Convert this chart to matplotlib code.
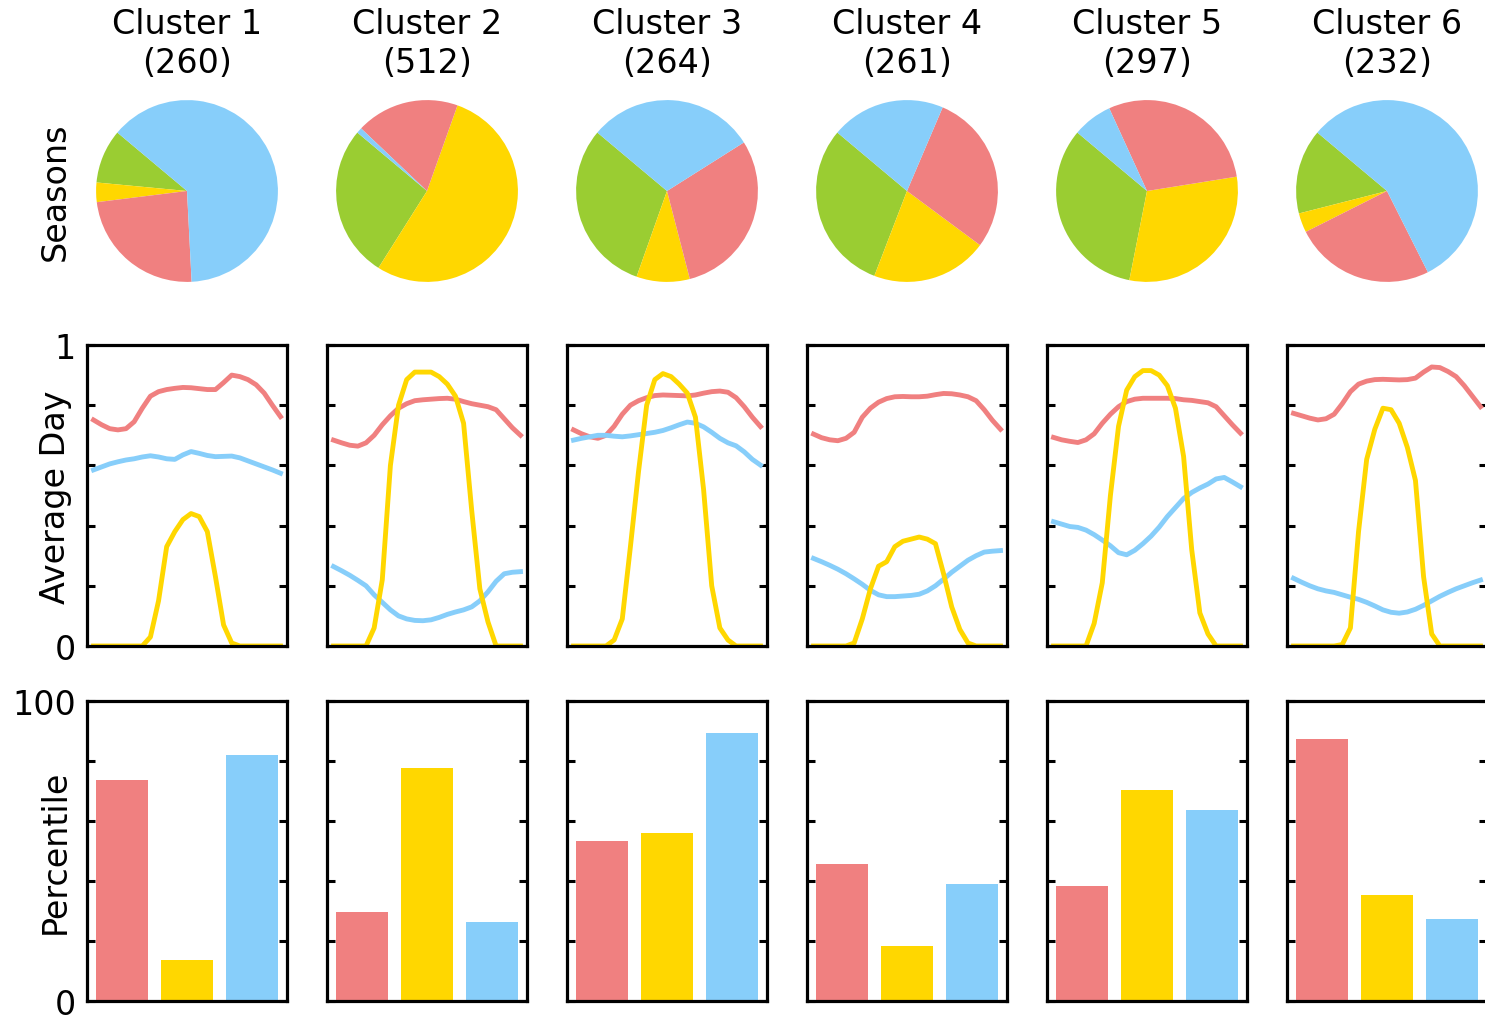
import numpy as np
import matplotlib
matplotlib.use("Agg")
import matplotlib.pyplot as plt

plt.rcParams['font.family'] = ['DejaVu Sans']
plt.rcParams['font.size'] = 24

#%% data
clusters = ["Cluster 1", "Cluster 2", "Cluster 3", "Cluster 4", "Cluster 5", "Cluster 6"]
sizes = [260, 512, 264, 261, 297, 232]

# season counts per cluster: spring, summer, autumn, winter
spring = [25, 139, 81, 79, 98, 35]
summer = [9, 274, 25, 54, 91, 8]
autumn = [62, 94, 79, 75, 87, 58]
winter = [164, 5, 79, 53, 21, 131]

hours = np.arange(24)

# average day profiles (normalised), one list per cluster
red_day = [
    [0.751, 0.735, 0.722, 0.718, 0.722, 0.745, 0.79, 0.83, 0.845, 0.852, 0.856, 0.859,
     0.858, 0.855, 0.852, 0.852, 0.875, 0.90, 0.895, 0.885, 0.868, 0.84, 0.80, 0.762],
    [0.684, 0.675, 0.667, 0.664, 0.675, 0.70, 0.735, 0.765, 0.79, 0.805, 0.815, 0.818,
     0.82, 0.822, 0.823, 0.82, 0.812, 0.805, 0.80, 0.795, 0.785, 0.755, 0.725, 0.70],
    [0.718, 0.705, 0.695, 0.69, 0.70, 0.73, 0.77, 0.80, 0.815, 0.825, 0.832, 0.834,
     0.833, 0.832, 0.831, 0.834, 0.84, 0.845, 0.847, 0.843, 0.825, 0.795, 0.76, 0.729],
    [0.704, 0.692, 0.685, 0.682, 0.69, 0.71, 0.76, 0.79, 0.81, 0.822, 0.828, 0.829,
     0.828, 0.828, 0.83, 0.835, 0.839, 0.838, 0.834, 0.828, 0.815, 0.785, 0.75, 0.72],
    [0.693, 0.685, 0.68, 0.676, 0.685, 0.705, 0.74, 0.77, 0.795, 0.812, 0.82, 0.823,
     0.823, 0.823, 0.823, 0.822, 0.818, 0.816, 0.812, 0.808, 0.795, 0.765, 0.735, 0.707],
    [0.773, 0.765, 0.757, 0.751, 0.755, 0.77, 0.805, 0.845, 0.87, 0.88, 0.885, 0.886,
     0.885, 0.884, 0.885, 0.89, 0.91, 0.927, 0.925, 0.912, 0.895, 0.865, 0.83, 0.795],
]
yellow_day = [
    [0, 0, 0, 0, 0, 0, 0, 0.03, 0.15, 0.33, 0.38, 0.42,
     0.44, 0.43, 0.38, 0.23, 0.07, 0.01, 0, 0, 0, 0, 0, 0],
    [0, 0, 0, 0, 0, 0.06, 0.22, 0.60, 0.80, 0.885, 0.91, 0.91,
     0.91, 0.895, 0.87, 0.83, 0.74, 0.45, 0.19, 0.08, 0, 0, 0, 0],
    [0, 0, 0, 0, 0, 0.02, 0.09, 0.33, 0.58, 0.80, 0.885, 0.905,
     0.895, 0.87, 0.84, 0.76, 0.52, 0.20, 0.06, 0.02, 0, 0, 0, 0],
    [0, 0, 0, 0, 0, 0.01, 0.09, 0.19, 0.265, 0.28, 0.33, 0.348,
     0.355, 0.362, 0.355, 0.34, 0.24, 0.13, 0.055, 0.01, 0, 0, 0, 0],
    [0, 0, 0, 0, 0, 0.075, 0.21, 0.50, 0.73, 0.85, 0.895, 0.915,
     0.915, 0.90, 0.865, 0.79, 0.63, 0.32, 0.11, 0.04, 0, 0, 0, 0],
    [0, 0, 0, 0, 0, 0, 0.005, 0.06, 0.38, 0.62, 0.72, 0.79,
     0.785, 0.74, 0.66, 0.55, 0.23, 0.04, 0, 0, 0, 0, 0, 0],
]
blue_day = [
    [0.585, 0.595, 0.605, 0.612, 0.618, 0.622, 0.628, 0.632, 0.628, 0.622, 0.62, 0.635,
     0.646, 0.64, 0.633, 0.629, 0.63, 0.631, 0.625, 0.615, 0.605, 0.595, 0.585, 0.574],
    [0.264, 0.25, 0.235, 0.218, 0.20, 0.17, 0.145, 0.12, 0.10, 0.09, 0.085, 0.084,
     0.087, 0.095, 0.105, 0.113, 0.12, 0.13, 0.15, 0.18, 0.215, 0.24, 0.245, 0.247],
    [0.684, 0.69, 0.695, 0.70, 0.70, 0.697, 0.695, 0.698, 0.702, 0.706, 0.71, 0.716,
     0.725, 0.735, 0.744, 0.74, 0.728, 0.71, 0.69, 0.675, 0.665, 0.645, 0.62, 0.601],
    [0.291, 0.28, 0.268, 0.255, 0.24, 0.223, 0.205, 0.185, 0.17, 0.164, 0.164, 0.166,
     0.168, 0.172, 0.183, 0.20, 0.222, 0.245, 0.265, 0.285, 0.30, 0.312, 0.315, 0.317],
    [0.413, 0.405, 0.397, 0.394, 0.385, 0.37, 0.352, 0.333, 0.31, 0.303, 0.318, 0.34,
     0.365, 0.395, 0.43, 0.46, 0.49, 0.51, 0.525, 0.538, 0.555, 0.56, 0.545, 0.529],
    [0.225, 0.212, 0.20, 0.19, 0.183, 0.178, 0.17, 0.162, 0.155, 0.145, 0.133, 0.12,
     0.112, 0.109, 0.113, 0.122, 0.135, 0.15, 0.165, 0.178, 0.19, 0.20, 0.21, 0.219],
]

# percentiles per cluster: red, yellow, blue
pct_red = [73.8, 29.8, 53.4, 45.6, 38.5, 87.5]
pct_yellow = [13.8, 77.6, 55.9, 18.3, 70.3, 35.5]
pct_blue = [82.0, 26.2, 89.5, 39.0, 63.7, 27.2]

RED, YELLOW, BLUE, GREEN = "lightcoral", "gold", "lightskyblue", "yellowgreen"

#%% figure
W, H = 1485, 1020
fig = plt.figure(figsize=(W / 100, H / 100), dpi=100)

def px_axes(x0, y0, w, h):
    return fig.add_axes([x0 / W, 1 - (y0 + h) / H, w / W, h / H])

def style_box(ax):
    for s in ax.spines.values():
        s.set_linewidth(2.3)
    ax.set_xticks([])
    ax.tick_params(axis='y', direction='in', left=True, right=True,
                   length=6, width=2.2, pad=8, labelsize=24)

col_x = [87 + 240 * i for i in range(6)]

for i in range(6):
    # pies
    ax = px_axes(col_x[i], 92, 200, 200)
    ax.pie([spring[i], summer[i], autumn[i], winter[i]],
           colors=[GREEN, YELLOW, RED, BLUE], startangle=140,
           wedgeprops=dict(linewidth=0))
    ax.set_xlim(-1.1, 1.1)
    ax.set_ylim(-1.1, 1.1)
    ax.set_title("%s\n(%d)" % (clusters[i], sizes[i]), fontsize=24, pad=14,
                 linespacing=1.2)

    # average day
    ax = px_axes(col_x[i], 346, 200, 301)
    ax.plot(hours, red_day[i], color=RED, lw=3.5)
    ax.plot(hours, blue_day[i], color=BLUE, lw=3.5)
    ax.plot(hours, yellow_day[i], color=YELLOW, lw=3.5)
    ax.set_xlim(-0.8, 23.8)
    ax.set_ylim(0, 1)
    style_box(ax)
    ax.set_yticks(np.linspace(0, 1, 6))
    if i == 0:
        ax.set_yticklabels(["0", "", "", "", "", "1"])
    else:
        ax.set_yticklabels([])

    # percentiles
    ax = px_axes(col_x[i], 702, 200, 300)
    ax.bar([0, 1, 2], [pct_red[i], pct_yellow[i], pct_blue[i]],
           color=[RED, YELLOW, BLUE], width=0.8)
    ax.set_ylim(0, 100)
    style_box(ax)
    ax.set_yticks(np.linspace(0, 100, 6))
    if i == 0:
        ax.set_yticklabels(["0", "", "", "", "", "100"])
    else:
        ax.set_yticklabels([])

fig.text(55 / W, 1 - 192 / H, "Seasons", rotation=90, ha='center', va='center', fontsize=24)
fig.text(55 / W, 1 - 497 / H, "Average Day", rotation=90, ha='center', va='center', fontsize=24)
fig.text(55 / W, 1 - 852 / H, "Percentile", rotation=90, ha='center', va='center', fontsize=24)

fig.savefig("out.png", dpi=100)
